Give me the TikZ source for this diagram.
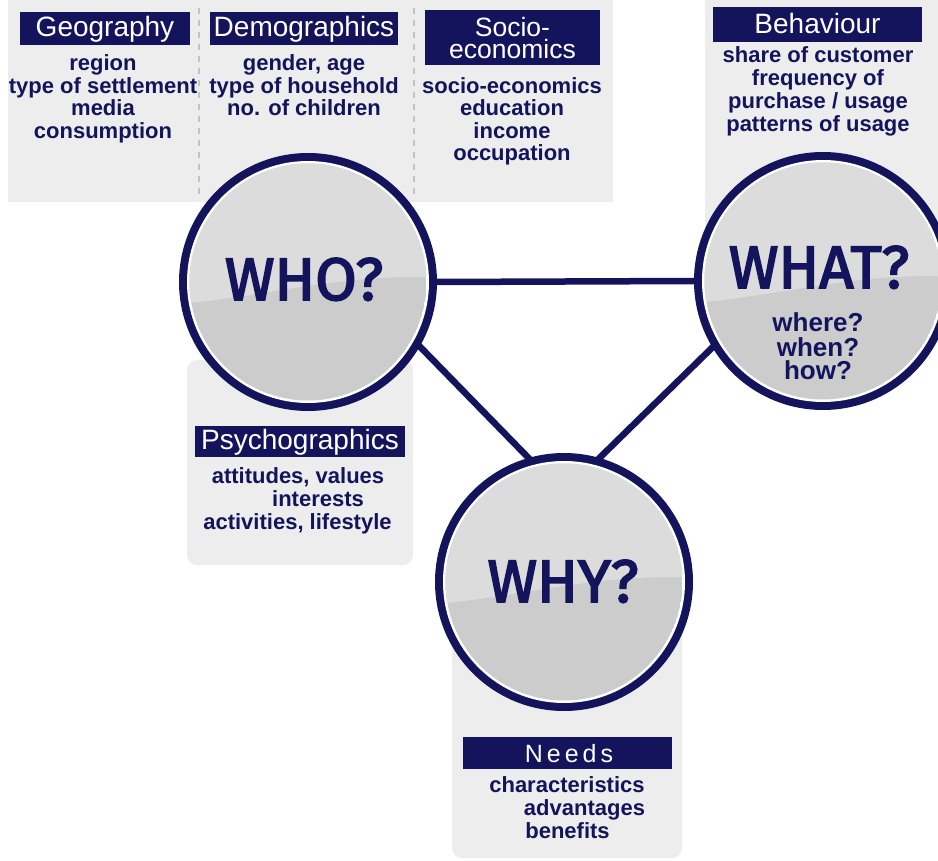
\documentclass[tikz,border=0pt]{standalone}
\usepackage{fontspec}
\setmainfont{Liberation Sans}
\newfontfamily\bigfont[FakeBold=3]{Fira Sans}
\usetikzlibrary{calc}
\definecolor{navy}{HTML}{14145C}
\definecolor{panel}{HTML}{EDEDED}
\definecolor{lightg}{HTML}{DCDCDC}
\definecolor{darkg}{HTML}{CCCCCC}
\definecolor{dashg}{HTML}{C4C4C4}
\newcommand\orbinside[3]{%
  \begin{scope}[shift={(#2,#3)}]
    \fill[white] (0,0) circle[radius=121];
    \begin{scope}
      \clip (0,0) circle[radius=118.5];
      \fill[darkg] (0,0) circle[radius=118.5];
      \fill[lightg] (-130,22) .. controls (-50,16) and (40,-10) .. (130,-4) -- (130,-130) -- (-130,-130) -- cycle;
    \end{scope}
  \end{scope}}
\begin{document}
\begin{tikzpicture}[x=1pt,y=-1pt,
  lab/.style={fill=navy,text=white,inner sep=0pt,font=\fontsize{28}{24}\selectfont,align=center},
  labtext/.style={text=white,inner sep=0pt,anchor=base,font=\fontsize{28}{24}\selectfont},
  body/.style={text=navy,inner sep=0pt,anchor=base,font=\bfseries\fontsize{22}{23}\selectfont},
  small/.style={text=navy,inner sep=0pt,anchor=base,font=\bfseries\fontsize{26}{25}\selectfont},
  ring/.style={circle,fill=navy,draw=none,minimum size=258pt,inner sep=0pt},
  conn/.style={draw=navy,line width=6.5pt,shorten <=-10pt,shorten >=-10pt},
  big/.style={text=navy,inner sep=0pt,anchor=base,font=\bigfont\fontsize{60}{60}\selectfont},
  sep/.style={draw=dashg,line width=1.3pt,dash pattern=on 6pt off 6pt}
]
\useasboundingbox (0,0) rectangle (938,861);
% panels
\fill[panel] (8,0) rectangle (613,202);
\fill[panel] (705,0) rectangle (938,300);
\fill[panel,rounded corners=10pt] (187,360) rectangle (413,565);
\fill[panel,rounded corners=10pt] (452,600) rectangle (682,858);
\coordinate (s1a) at (199,8);
\coordinate (s1b) at (199,200);
\coordinate (s2a) at (414,8);
\coordinate (s2b) at (414,200);
\draw[sep] (s1a) -- (s1b);
\draw[sep] (s2a) -- (s2b);
% label boxes
\node[lab,minimum width=170pt,minimum height=33pt] (geo) at (105,28.5) {};
\node[labtext] (geot) at (105,37) {Geography};
\node[lab,minimum width=188pt,minimum height=33pt] (demo) at (304,28.5) {};
\node[labtext] (demot) at (304,37) {Demographics};
\node[lab,minimum width=175pt,minimum height=55pt] (soc) at (512.5,37.5) {};
\node[text=white,inner sep=0pt,align=center,font=\fontsize{26.5}{22}\selectfont] (soct) at (512.5,38.4) {Socio-\\economics};
\node[lab,minimum width=209pt,minimum height=35pt] (beh) at (817.5,25) {};
\node[labtext] (beht) at (817.5,34) {Behaviour};
\node[lab,minimum width=210pt,minimum height=31pt] (psy) at (300,441) {};
\node[labtext] (psyt) at (300,449) {Psychographics};
\node[lab,minimum width=209pt,minimum height=32pt] (need) at (567.5,753) {};
\node[labtext,font=\fontsize{25}{24}\selectfont\addfontfeature{LetterSpace=16}] (needt) at (569,762) {Needs};
% body texts
\node[body] (g1) at (103,71) {region};
\node[body] (g2) at (103,93.5) {type of settlement};
\node[body] (g3) at (103,116) {media};
\node[body] (g4) at (103,138.5) {consumption};
\node[body] (d1) at (304,71) {gender, age};
\node[body] (d2) at (304,93.5) {type of household};
\node[body] (d3) at (304,116) {no. of children};
\node[body] (e1) at (512,93.5) {socio-economics};
\node[body] (e2) at (512,116) {education};
\node[body] (e3) at (512,138.5) {income};
\node[body] (e4) at (512,161) {occupation};
\node[body] (b1) at (818,63) {share of customer};
\node[body] (b2) at (818,86) {frequency of};
\node[body] (b3) at (818,109) {purchase / usage};
\node[body] (b4) at (818,132) {patterns of usage};
\node[body] (p1) at (298,483) {attitudes, values};
\node[body] (p2) at (318,506) {interests};
\node[body] (p3) at (297.5,529) {activities, lifestyle};
\node[body] (n1) at (567,792) {characteristics};
\node[body] (n2) at (584.5,815) {advantages};
\node[body] (n3) at (567.5,838) {benefits};
% orbs
\node[ring] (who) at (308,282) {};
\node[ring] (what) at (823,281) {};
\node[ring] (why) at (564,582) {};
\draw[conn] (who.east) -- (what.west);
\draw[conn] (who.-30) -- (why.106);
\draw[conn] (what.-149) -- (why.74);
\orbinside{who}{308}{282}
\orbinside{what}{823}{281}
\orbinside{why}{564}{582}
\node[big] (whot) at (304,300) {WHO?};
\node[big] (whatt) at (819,288) {WHAT?};
\node[big] (whyt) at (563,602) {WHY?};
\node[small] (w1) at (818,332) {where?};
\node[small] (w2) at (818,356) {when?};
\node[small] (w3) at (818,380) {how?};
\end{tikzpicture}
\end{document}
